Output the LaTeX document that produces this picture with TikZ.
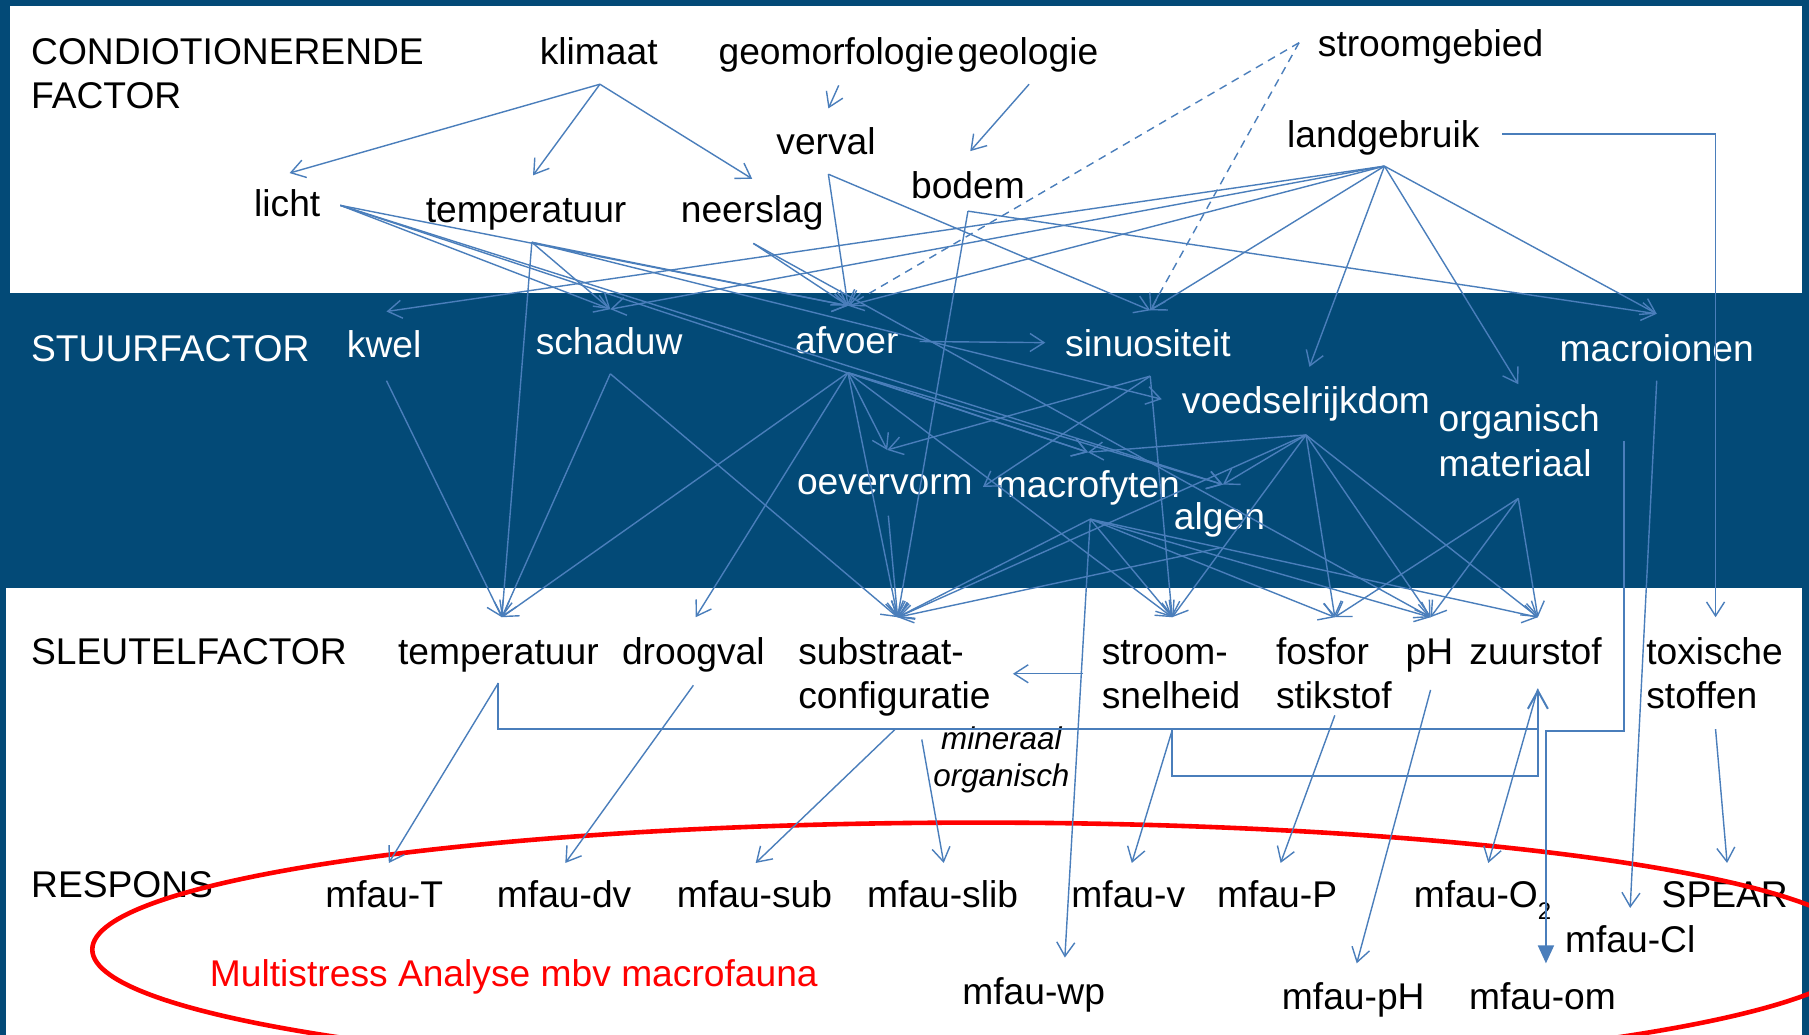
\documentclass[tikz,border=0pt]{standalone}
\usepackage{fontspec}
\setmainfont{Liberation Sans}
\usetikzlibrary{arrows.meta}
\definecolor{dkblue}{RGB}{3,74,119}
\definecolor{lnblue}{RGB}{74,126,187}
\definecolor{myred}{RGB}{255,0,0}
\begin{document}
\begin{tikzpicture}[x=0.5769pt,y=-0.5769pt,
  every node/.style={font=\fontsize{18.6}{22}\selectfont, inner sep=0pt, outer sep=0pt},
  bk/.style={text=black},
  wt/.style={text=white},
  lbl/.style={anchor=base},
  lblw/.style={anchor=base west},
  lk/.style={draw=lnblue, line width=0.7pt, -{Straight Barb[length=7pt,width=9pt]}},
  dl/.style={lk, dash pattern=on 4pt off 3pt},
  br/.style={draw=lnblue, line width=1pt},
  brarr/.style={br, -{Straight Barb[length=9pt,width=10pt,line width=1pt]}},
  filarr/.style={draw=lnblue, line width=1pt, -{Triangle[length=9pt,width=8pt]}},
  ital/.style={font=\fontsize{15.7}{18}\selectfont\itshape}
]
\useasboundingbox (0,0) rectangle (1568,897);
\fill[dkblue] (0,0) rectangle (1568,897);
\fill[white] (9,5) rectangle (1562,254);
\fill[white] (5,510) rectangle (1562,897);

% ---------- texts: top ----------
\node[bk,lblw] (cond1) at (27,56) {CONDIOTIONERENDE};
\node[bk,lblw] (cond2) at (27,94) {FACTOR};
\node[bk,lbl] (klimaat) at (519,56) {klimaat};
\node[bk,lbl] (geomorf) at (725,56) {geomorfologie};
\node[bk,lbl] (geologie) at (891,56) {geologie};
\node[bk,lbl] (stroomg) at (1240,49) {stroomgebied};
\node[bk,lbl] (verval) at (716,134) {verval};
\node[bk,lbl] (bodem) at (839,172) {bodem};
\node[bk,lbl] (landg) at (1199,128) {landgebruik};
\node[bk,lbl] (licht) at (249,188) {licht};
\node[bk,lbl] (temp) at (456,193) {temperatuur};
\node[bk,lbl] (neerslag) at (652,193) {neerslag};
% ---------- texts: middle ----------
\node[wt,lblw] (stuur) at (27,313) {STUURFACTOR};
\node[wt,lbl] (kwel) at (333,310) {kwel};
\node[wt,lbl] (schaduw) at (528,307) {schaduw};
\node[wt,lbl] (afvoer) at (734,306) {afvoer};
\node[wt,lbl] (sinuos) at (995,309) {sinuositeit};
\node[wt,lbl] (macroi) at (1436,313) {macroionen};
\node[wt,lbl] (voedsel) at (1132,358) {voedselrijkdom};
\node[wt,lblw] (organ1) at (1247,374) {organisch};
\node[wt,lblw] (organ2) at (1247,413) {materiaal};
\node[wt,lbl] (oever) at (767,429) {oevervorm};
\node[wt,lbl] (macrof) at (943,431) {macrofyten};
\node[wt,lbl] (algen) at (1057,459) {algen};
% ---------- texts: bottom ----------
\node[bk,lblw] (sleutel) at (27,576) {SLEUTELFACTOR};
\node[bk,lbl] (temp2) at (432,576) {temperatuur};
\node[bk,lbl] (droog) at (601,576) {droogval};
\node[bk,lblw] (substr1) at (692,576) {substraat-};
\node[bk,lblw] (substr2) at (692,614) {configuratie};
\node[bk,lblw] (stroom1) at (955,576) {stroom-};
\node[bk,lblw] (stroom2) at (955,614) {snelheid};
\node[bk,lblw] (fosfor1) at (1106,576) {fosfor};
\node[bk,lblw] (fosfor2) at (1106,614) {stikstof};
\node[bk,lbl] (ph) at (1239,576) {pH};
\node[bk,lbl] (zuur) at (1331,576) {zuurstof};
\node[bk,lblw] (toxi1) at (1427,576) {toxische};
\node[bk,lblw] (toxi2) at (1427,614) {stoffen};
\node[bk,lbl,ital] (miner) at (868,650) {mineraal};
\node[bk,lbl,ital] (organi) at (868,682) {organisch};
\node[bk,lblw] (respons) at (27,778) {RESPONS};
\node[bk,lbl] (mT) at (333,787) {mfau-T};
\node[bk,lbl] (mdv) at (489,787) {mfau-dv};
\node[bk,lbl] (msub) at (654,787) {mfau-sub};
\node[bk,lbl] (mslib) at (817,787) {mfau-slib};
\node[bk,lbl] (mv) at (978,787) {mfau-v};
\node[bk,lbl] (mP) at (1107,787) {mfau-P};
\node[bk,lbl] (mO) at (1285,787) {mfau-O\raisebox{-0.3em}{\fontsize{12}{12}\selectfont 2}};
\node[bk,lbl] (spear) at (1495,787) {SPEAR};
\node[bk,lbl] (mCl) at (1413,826) {mfau-Cl};
\node[bk,lbl] (mwp) at (896,871) {mfau-wp};
\node[bk,lbl] (mpH) at (1173,875) {mfau-pH};
\node[bk,lbl] (mom) at (1337,875) {mfau-om};
\node[text=myred,lblw] (msa) at (182,855) {Multistress Analyse mbv macrofauna};

% red ellipse
\draw[myred, line width=2.3pt] (848,823) ellipse [x radius=768, y radius=110];

% ---------- connector end points ----------
\coordinate (klimaat-s) at (520,73);
\coordinate (geomorf-s) at (727,74);
\coordinate (geologie-s) at (892,73);
\coordinate (stroomg-s) at (1126,37);
\coordinate (landg-s) at (1200,144);
\coordinate (landg-r) at (1302,116);
\coordinate (verval-t) at (718,94);
\coordinate (verval-s) at (718,151);
\coordinate (bodem-t) at (841,131);
\coordinate (bodem-s) at (839,183);
\coordinate (licht-t) at (251,150);
\coordinate (licht-s) at (295,178);
\coordinate (temp-t) at (462,152);
\coordinate (temp-s) at (461,210);
\coordinate (neerslag-t) at (652,155);
\coordinate (neerslag-s) at (653,211);
\coordinate (kwel-t) at (335,270);
\coordinate (kwel-s) at (335,330);
\coordinate (schaduw-t) at (529,268);
\coordinate (schaduw-s) at (529,324);
\coordinate (afvoer-t) at (735,265);
\coordinate (afvoer-s) at (735,323);
\coordinate (afvoer-r) at (797,296);
\coordinate (sinuos-t) at (997,269);
\coordinate (sinuos-l) at (906,297);
\coordinate (sinuos-s) at (997,326);
\coordinate (voedsel-t) at (1135,318);
\coordinate (voedsel-l) at (1007,346);
\coordinate (voedsel-s) at (1132,377);
\coordinate (organ-t) at (1316,333);
\coordinate (organ-s) at (1316,432);
\coordinate (organ-r) at (1408,382);
\coordinate (macroi-t) at (1436,272);
\coordinate (macroi-s) at (1436,330);
\coordinate (oever-t) at (769,390);
\coordinate (oever-r) at (852,422);
\coordinate (oever-s) at (770,447);
\coordinate (macrof-t) at (943,392);
\coordinate (macrof-s) at (945,450);
\coordinate (algen-t) at (1060,420);
\coordinate (algen-s) at (1057,475);
\coordinate (temp2-t) at (435,535);
\coordinate (temp2-s) at (432,592);
\coordinate (droog-t) at (603,535);
\coordinate (droog-s) at (601,594);
\coordinate (substr-t) at (778,535);
\coordinate (substr-s) at (776,632);
\coordinate (substr-s2) at (799,641);
\coordinate (substr-r) at (878,584);
\coordinate (stroom-t) at (1016,535);
\coordinate (stroom-s) at (1016,633);
\coordinate (stroom-l) at (939,584);
\coordinate (stroom-k) at (1016,673);
\coordinate (fosfor-t) at (1157,535);
\coordinate (fosfor-s) at (1157,620);
\coordinate (ph-t) at (1240,535);
\coordinate (ph-s) at (1240,598);
\coordinate (zuur-t) at (1333,535);
\coordinate (zuur-b) at (1333,597);
\coordinate (zuur-k) at (1333,632);
\coordinate (toxi-t) at (1487,535);
\coordinate (toxi-s) at (1487,632);
\coordinate (om-k) at (1340,634);
\coordinate (mT-t) at (337,748);
\coordinate (mdv-t) at (490,748);
\coordinate (msub-t) at (655,748);
\coordinate (mslib-t) at (818,748);
\coordinate (mv-t) at (981,748);
\coordinate (mP-t) at (1110,748);
\coordinate (mO-t) at (1290,748);
\coordinate (spear-t) at (1497,748);
\coordinate (mCl-t) at (1413,787);
\coordinate (mwp-t) at (923,830);
\coordinate (mpH-t) at (1176,835);
\coordinate (mom-t) at (1340,835);

% ---------- connectors: top ----------
\draw[lk] (klimaat-s) -- (licht-t);
\draw[lk] (klimaat-s) -- (temp-t);
\draw[lk] (klimaat-s) -- (neerslag-t);
\draw[lk] (geomorf-s) -- (verval-t);
\draw[lk] (geologie-s) -- (bodem-t);
\draw[dl] (stroomg-s) -- (afvoer-t);
\draw[dl] (stroomg-s) -- (sinuos-t);
\draw[lk] (landg-s) -- (kwel-t);
\draw[lk] (landg-s) -- (schaduw-t);
\draw[lk] (landg-s) -- (afvoer-t);
\draw[lk] (landg-s) -- (sinuos-t);
\draw[lk] (landg-s) -- (voedsel-t);
\draw[lk] (landg-s) -- (organ-t);
\draw[lk] (landg-s) -- (macroi-t);
\draw[lk] (landg-r) -| (toxi-t);
\draw[lk] (verval-s) -- (afvoer-t);
\draw[lk] (verval-s) -- (sinuos-t);
\draw[lk] (bodem-s) -- (substr-t);
\draw[lk] (bodem-s) -- (macroi-t);
\draw[lk] (licht-s) -- (schaduw-t);
\draw[lk] (licht-s) -- (afvoer-t);
\draw[lk] (licht-s) -- (macrof-t);
\draw[lk] (licht-s) -- (algen-t);
\draw[lk] (temp-s) -- (temp2-t);
\draw[lk] (temp-s) -- (schaduw-t);
\draw[lk] (temp-s) -- (voedsel-l);
\draw[lk] (temp-s) -- (afvoer-t);
\draw[lk] (neerslag-s) -- (afvoer-t);
\draw[lk] (neerslag-s) -- (ph-t);
% ---------- connectors: middle ----------
\draw[lk] (kwel-s) -- (temp2-t);
\draw[lk] (schaduw-s) -- (temp2-t);
\draw[lk] (schaduw-s) -- (substr-t);
\draw[lk] (afvoer-s) -- (temp2-t);
\draw[lk] (afvoer-s) -- (droog-t);
\draw[lk] (afvoer-s) -- (oever-t);
\draw[lk] (afvoer-s) -- (substr-t);
\draw[lk] (afvoer-s) -- (stroom-t);
\draw[lk] (afvoer-s) -- (macrof-t);
\draw[lk] (afvoer-s) -- (algen-t);
\draw[lk] (afvoer-r) -- (sinuos-l);
\draw[lk] (sinuos-s) -- (oever-t);
\draw[lk] (sinuos-s) -- (stroom-t);
\draw[lk] (sinuos-s) -- (oever-r);
\draw[lk] (voedsel-s) -- (macrof-t);
\draw[lk] (voedsel-s) -- (algen-t);
\draw[lk] (voedsel-s) -- (substr-t);
\draw[lk] (voedsel-s) -- (stroom-t);
\draw[lk] (voedsel-s) -- (fosfor-t);
\draw[lk] (voedsel-s) -- (ph-t);
\draw[lk] (voedsel-s) -- (zuur-t);
\draw[lk] (organ-s) -- (fosfor-t);
\draw[lk] (organ-s) -- (ph-t);
\draw[lk] (organ-s) -- (zuur-t);
\draw[lk] (oever-s) -- (substr-t);
\draw[lk] (macrof-s) -- (substr-t);
\draw[lk] (macrof-s) -- (stroom-t);
\draw[lk] (macrof-s) -- (fosfor-t);
\draw[lk] (macrof-s) -- (ph-t);
\draw[lk] (macrof-s) -- (zuur-t);
\draw[lk] (macrof-s) -- (mwp-t);
\draw[lk] (algen-s) -- (substr-t);
\draw[lk] (macroi-s) -- (mCl-t);
\draw[filarr] (organ-r) |- (om-k) -- (mom-t);
% ---------- connectors: bottom ----------
\draw[lk] (temp2-s) -- (mT-t);
\draw[brarr] (temp2-s) |- (zuur-k) -- (zuur-b);
\draw[br] (stroom-s) -- (stroom-k) -| (zuur-k);
\draw[lk] (droog-s) -- (mdv-t);
\draw[lk] (substr-s) -- (msub-t);
\draw[lk] (substr-s2) -- (mslib-t);
\draw[lk] (stroom-s) -- (mv-t);
\draw[lk] (stroom-l) -- (substr-r);
\draw[lk] (fosfor-s) -- (mP-t);
\draw[lk] (ph-s) -- (mpH-t);
\draw[lk] (zuur-b) -- (mO-t);
\draw[lk] (toxi-s) -- (spear-t);
\end{tikzpicture}
\end{document}
